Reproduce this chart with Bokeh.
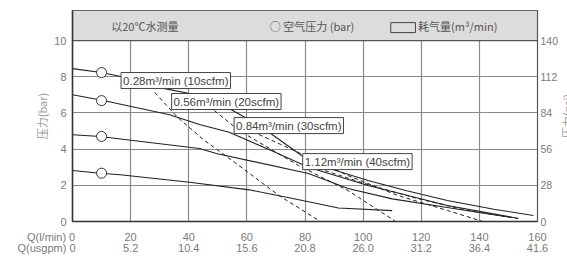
from bokeh.plotting import figure
from bokeh.models import LinearAxis, Range1d, FixedTicker, Label
from bokeh.layouts import row
from bokeh.core.properties import value
from bokeh.embed import file_html
from bokeh.resources import INLINE
import math

# ---- data ----
q_lmin_ticks = [0, 20, 40, 60, 80, 100, 120, 140, 160]
q_lmin_labels = ["Q(l/min) 0", "20", "40", "60", "80", "100", "120", "140", "160"]
q_usgpm_labels = ["Q(usgpm) 0", "5.2", "10.4", "15.6", "20.8", "26.0", "31.2", "36.4", "41.6"]
bar_ticks = [0, 2, 4, 6, 8, 10]
psi_ticks = [0, 28, 56, 84, 112, 140]

# solid pressure curves (flow l/min, head bar)
s1_x = [0, 9.9, 16.7, 30.0, 42.0, 53.9, 60.0, 68.2, 78.8, 90.0, 101.7, 115.0, 129.0, 145.0, 158.6]
s1_y = [8.45, 8.23, 8.01, 7.40, 7.02, 6.24, 5.69, 4.86, 3.65, 2.85, 2.27, 1.70, 1.16, 0.68, 0.33]
s2_x = [0, 10.6, 33.4, 43.7, 53.9, 68.0, 81.2, 101.7, 129.0, 153.5]
s2_y = [7.0, 6.69, 5.90, 5.36, 4.93, 3.95, 3.0, 1.99, 0.88, 0.17]
s3_x = [0, 9.6, 20.8, 43.7, 49.5, 81.2, 94.8, 110.0, 130.0, 151.0]
s3_y = [4.79, 4.70, 4.48, 4.03, 3.76, 2.65, 1.82, 1.25, 0.75, 0.22]
s4_x = [0, 9.5, 16.4, 40.3, 60.8, 75.0, 91.5, 110.0]
s4_y = [2.82, 2.67, 2.58, 2.17, 1.75, 1.30, 0.75, 0.60]
marker_x = [10, 10, 10, 10]
marker_y = [8.23, 6.68, 4.70, 2.67]

# dashed air-consumption curves
d1_x = [28.3, 36.2, 45.4, 57.3, 71.0, 85.3]
d1_y = [7.13, 5.75, 4.48, 3.09, 1.44, 0.0]
d2_x = [48.8, 57.3, 77.8, 94.8, 111.2]
d2_y = [6.13, 5.03, 3.09, 1.71, 0.0]
d3_x = [64.1, 77.8, 94.8, 111.9, 129.0, 141.2]
d3_y = [4.81, 3.81, 2.54, 1.44, 0.61, 0.0]
d4_x = [84.6, 101.7, 118.7, 135.8, 153.2]
d4_y = [2.93, 2.04, 1.27, 0.61, 0.17]

box_texts = ["0.28m³/min (10scfm)", "0.56m³/min (20scfm)", "0.84m³/min (30scfm)", "1.12m³/min (40scfm)"]
box_x = [16.7, 34.1, 55.6, 79.2]
box_y = [7.79, 6.63, 5.30, 3.31]

YMAX = 11.66
GRID = "#8a8a8a"
DARK = "#333333"
TICK = "#7a7a7a"
NUMFONT = "Liberation Sans"
CJK = "Noto Sans CJK SC"

# no-break-space padding so that the long "0" labels stay centred on their tick
PAD1 = "\u00a0" * 14
PAD2 = "\u00a0" * 17

p = figure(width=561, height=256, x_range=Range1d(0, 160), y_range=Range1d(0, YMAX),
           output_backend="svg", toolbar_location=None,
           min_border_left=72, min_border_right=20, min_border_top=10, min_border_bottom=35)
p.outline_line_color = "#555555"
p.outline_line_width = 1.2

# grids
p.xgrid.ticker = FixedTicker(ticks=q_lmin_ticks[1:-1])
p.ygrid.ticker = FixedTicker(ticks=bar_ticks[1:-1])
for g in (p.xgrid[0], p.ygrid[0]):
    g.grid_line_color = GRID
    g.grid_line_width = 1.2

# bottom axis 1 (l/min)
ov1 = {t: l for t, l in zip(q_lmin_ticks, q_lmin_labels)}
ov1[q_lmin_ticks[0]] = q_lmin_labels[0] + PAD1
xa = p.xaxis[0]
xa.ticker = FixedTicker(ticks=q_lmin_ticks)
xa.major_label_overrides = ov1
xa.axis_line_color = DARK
xa.axis_line_width = 1.5
xa.major_tick_line_color = None
xa.minor_tick_line_color = None
xa.major_tick_out = 0
xa.major_label_standoff = 9
xa.major_label_text_color = TICK
xa.major_label_text_font = NUMFONT
xa.major_label_text_font_size = "11px"

# bottom axis 2 (usgpm)
ov2 = {t: l for t, l in zip(q_lmin_ticks, q_usgpm_labels)}
ov2[q_lmin_ticks[0]] = q_usgpm_labels[0] + PAD2
xb = LinearAxis(ticker=FixedTicker(ticks=q_lmin_ticks), major_label_overrides=ov2)
xb.axis_line_color = None
xb.major_tick_line_color = None
xb.minor_tick_line_color = None
xb.major_tick_out = 0
xb.major_label_standoff = -4
xb.major_label_text_color = TICK
xb.major_label_text_font = NUMFONT
xb.major_label_text_font_size = "11px"
p.add_layout(xb, "below")

# left axis
ya = p.yaxis[0]
ya.ticker = FixedTicker(ticks=bar_ticks)
ya.axis_line_color = DARK
ya.axis_line_width = 1.5
ya.major_tick_line_color = None
ya.minor_tick_line_color = None
ya.major_tick_out = 0
ya.major_label_standoff = 6
ya.major_label_text_color = TICK
ya.major_label_text_font = NUMFONT
ya.major_label_text_font_size = "11px"
ya.axis_label = "压力(bar)"
ya.axis_label_standoff = 1
ya.axis_label_text_font = CJK
ya.axis_label_text_font_style = "normal"
ya.axis_label_text_font_size = "11px"
ya.axis_label_text_color = "#9a9a9a"

# right axis
p.extra_y_ranges = {"psi": Range1d(0, YMAX * 14)}
yr = LinearAxis(y_range_name="psi", ticker=FixedTicker(ticks=psi_ticks))
yr.axis_line_color = "#555555"
yr.major_tick_line_color = None
yr.minor_tick_line_color = None
yr.major_tick_out = 0
yr.major_label_standoff = 3
yr.major_label_text_color = TICK
yr.major_label_text_font = NUMFONT
yr.major_label_text_font_size = "10.5px"
p.add_layout(yr, "right")

# header band
p.quad(left=[0], right=[160], bottom=[10], top=[YMAX], fill_color="#dcdcdc",
       line_color="#555555", line_width=1.2)
p.add_layout(Label(x=24.9, y=10.83, text="以20℃水测量", text_align="center", text_baseline="middle",
                   text_font=CJK, text_font_size="11px", text_color="#555555"))
p.add_layout(Label(x=67.9, y=10.83, text="○ 空气压力 (bar)", text_align="left", text_baseline="middle",
                   text_font=CJK, text_font_size="11px", text_color="#555555"))
p.quad(left=[109.5], right=[118.0], bottom=[10.44], top=[10.99], fill_color=None,
       line_color="#444444", line_width=1)
p.add_layout(Label(x=118.9, y=10.83, text="耗气量(m³/min)", text_align="left", text_baseline="middle",
                   text_font=CJK, text_font_size="11px", text_color="#555555"))

# curves
for xs, ys in ((s1_x, s1_y), (s2_x, s2_y), (s3_x, s3_y), (s4_x, s4_y)):
    p.line(xs, ys, line_color="#222222", line_width=1.1)
for xs, ys in ((d1_x, d1_y), (d2_x, d2_y), (d3_x, d3_y), (d4_x, d4_y)):
    p.line(xs, ys, line_color="#222222", line_width=1, line_dash="4 3")
p.scatter(marker_x, marker_y, size=10, fill_color="white", line_color="#333333", line_width=1)

# boxed labels
for t, bx, by in zip(box_texts, box_x, box_y):
    p.add_layout(Label(x=bx, y=by, text=t, text_align="left", text_baseline="middle",
                       text_font="Liberation Sans", text_font_size="11.5px", text_color="#444444",
                       background_fill_color="white", border_line_color="#444444",
                       border_line_width=1, padding=2))

# narrow strip on the right holding the (cut) right-axis title
p2 = figure(width=6, height=256, x_range=Range1d(0, 1), y_range=Range1d(0, 1),
            x_axis_location=None, y_axis_location=None, min_border=0,
            output_backend="svg", toolbar_location=None)
p2.outline_line_color = None
p2.grid.visible = False
p2.text(x=[0.95], y=[0.5], text=["压力(psi)"], angle=math.pi / 2, text_align="center",
        text_baseline="middle", text_font=value(CJK), text_font_size="11px", text_color="#9a9a9a")

layout = row(p, p2)
open("out.html", "w").write(file_html(layout, INLINE))
